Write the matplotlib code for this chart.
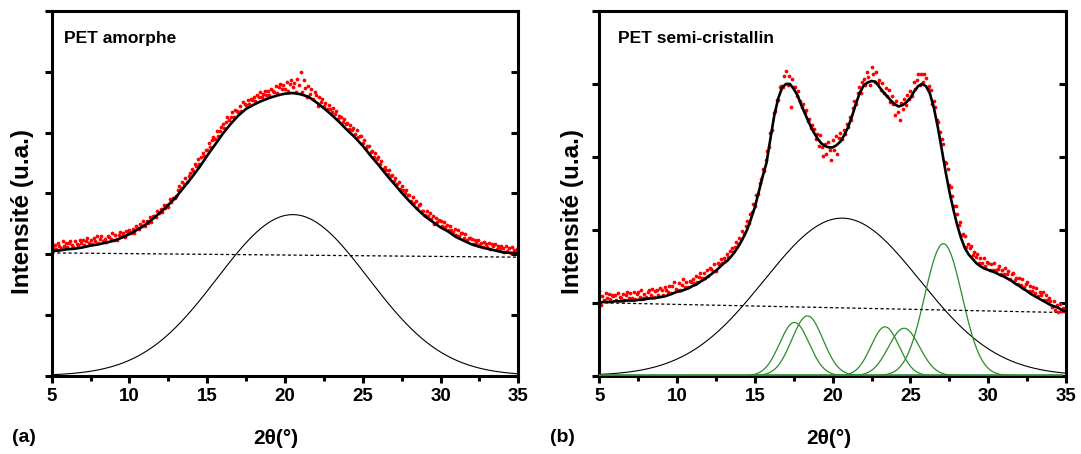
import numpy as np
import matplotlib
matplotlib.use('Agg')
import matplotlib.pyplot as plt
from matplotlib.ticker import MultipleLocator

plt.rcParams['font.family'] = ['Liberation Sans', 'DejaVu Sans']

# ---------------- (a) PET amorphe ----------------
# measured points, 2theta = 5.0 .. 35.0 step 0.1
x_pts = np.round(np.arange(5.0, 35.01, 0.1), 1)
y_pts_a = [
    2.18, 2.10, 2.15, 2.08, 2.18, 2.14, 2.10, 2.21, 2.13, 2.19,
    2.12, 2.19, 2.22, 2.15, 2.12, 2.21, 2.17, 2.15, 2.23, 2.18,
    2.23, 2.15, 2.21, 2.27, 2.18, 2.24, 2.16, 2.26, 2.22, 2.29,
    2.18, 2.25, 2.29, 2.21, 2.25, 2.20, 2.30, 2.28, 2.25, 2.34,
    2.24, 2.32, 2.24, 2.32, 2.37, 2.30, 2.34, 2.28, 2.38, 2.36,
    2.40, 2.34, 2.41, 2.35, 2.47, 2.43, 2.41, 2.49, 2.46, 2.54,
    2.46, 2.55, 2.52, 2.61, 2.53, 2.62, 2.62, 2.61, 2.71, 2.68,
    2.74, 2.69, 2.81, 2.76, 2.81, 2.78, 2.90, 2.85, 2.93, 2.92,
    2.96, 3.06, 3.12, 3.08, 3.18, 3.16, 3.26, 3.19, 3.28, 3.33,
    3.40, 3.36, 3.49, 3.45, 3.57, 3.49, 3.59, 3.66, 3.62, 3.71,
    3.71, 3.83, 3.76, 3.87, 3.92, 3.90, 4.02, 3.95, 4.03, 4.09,
    4.14, 4.08, 4.18, 4.26, 4.20, 4.26, 4.34, 4.26, 4.37, 4.35,
    4.34, 4.43, 4.36, 4.50, 4.47, 4.46, 4.54, 4.47, 4.55, 4.54,
    4.59, 4.52, 4.62, 4.58, 4.67, 4.58, 4.64, 4.69, 4.62, 4.68,
    4.62, 4.72, 4.69, 4.66, 4.76, 4.65, 4.75, 4.80, 4.71, 4.78,
    4.72, 4.83, 4.68, 4.80, 4.87, 4.75, 4.82, 4.66, 4.88, 4.79,
    4.99, 4.67, 4.87, 4.73, 4.58, 4.77, 4.64, 4.71, 4.56, 4.66,
    4.61, 4.44, 4.59, 4.50, 4.56, 4.44, 4.48, 4.38, 4.45, 4.39,
    4.33, 4.40, 4.30, 4.36, 4.22, 4.27, 4.26, 4.17, 4.22, 4.14,
    4.16, 4.06, 4.13, 4.04, 4.07, 3.97, 4.04, 3.92, 3.94, 3.94,
    3.83, 3.87, 3.75, 3.78, 3.78, 3.68, 3.70, 3.60, 3.67, 3.57,
    3.59, 3.49, 3.54, 3.40, 3.44, 3.39, 3.32, 3.39, 3.28, 3.30,
    3.20, 3.26, 3.16, 3.19, 3.07, 3.12, 3.06, 3.01, 3.06, 2.97,
    2.97, 2.87, 2.94, 2.84, 2.88, 2.76, 2.81, 2.82, 2.71, 2.71,
    2.64, 2.71, 2.63, 2.68, 2.58, 2.62, 2.50, 2.60, 2.53, 2.56,
    2.55, 2.47, 2.53, 2.45, 2.48, 2.39, 2.46, 2.40, 2.36, 2.42,
    2.32, 2.39, 2.29, 2.34, 2.34, 2.27, 2.33, 2.23, 2.26, 2.27,
    2.25, 2.17, 2.24, 2.18, 2.24, 2.15, 2.19, 2.12, 2.20, 2.16,
    2.12, 2.18, 2.09, 2.16, 2.13, 2.17, 2.08, 2.13, 2.09, 2.14,
    2.10, 2.04, 2.13, 2.05, 2.10, 2.02, 2.11, 2.07, 2.03, 2.08,
    2.03,
]
# fitted envelope, step 0.5
x_fit_a = np.round(np.arange(5.0, 35.01, 0.5), 1)
y_fit_a = [
    2.05, 2.06, 2.08, 2.09, 2.11, 2.14, 2.16, 2.19, 2.22, 2.27,
    2.33, 2.40, 2.48, 2.58, 2.69, 2.81, 2.94, 3.10, 3.26, 3.43,
    3.62, 3.80, 3.98, 4.14, 4.28, 4.39, 4.46, 4.52, 4.57, 4.61,
    4.64, 4.65, 4.63, 4.59, 4.50, 4.40, 4.29, 4.17, 4.04, 3.92,
    3.78, 3.62, 3.47, 3.31, 3.16, 3.01, 2.87, 2.74, 2.62, 2.53,
    2.44, 2.37, 2.28, 2.22, 2.16, 2.12, 2.09, 2.06, 2.03, 2.02,
    2.01,
]
base_a = [2.02, 1.95]          # linear background at 5 and 35
amorph_a = [20.5, 2.65, 4.85]  # centre, height, sigma

# ---------------- (b) PET semi-cristallin ----------------
y_pts_b = [
    1.16, 0.97, 1.09, 1.04, 1.13, 1.07, 1.12, 1.05, 1.10, 1.09,
    1.11, 1.04, 1.13, 1.08, 1.06, 1.12, 1.04, 1.11, 1.15, 1.06,
    1.13, 1.06, 1.15, 1.05, 1.12, 1.15, 1.08, 1.18, 1.07, 1.12,
    1.08, 1.15, 1.18, 1.11, 1.19, 1.08, 1.16, 1.18, 1.11, 1.20,
    1.17, 1.11, 1.22, 1.17, 1.15, 1.23, 1.14, 1.23, 1.28, 1.19,
    1.18, 1.27, 1.17, 1.25, 1.32, 1.22, 1.29, 1.22, 1.30, 1.28,
    1.33, 1.27, 1.36, 1.28, 1.35, 1.41, 1.34, 1.41, 1.34, 1.45,
    1.37, 1.48, 1.46, 1.43, 1.53, 1.44, 1.54, 1.53, 1.60, 1.55,
    1.62, 1.57, 1.67, 1.63, 1.71, 1.75, 1.69, 1.77, 1.83, 1.80,
    1.89, 1.87, 1.98, 1.94, 2.05, 2.12, 2.10, 2.22, 2.24, 2.35,
    2.33, 2.48, 2.49, 2.64, 2.69, 2.83, 2.81, 2.96, 3.08, 3.13,
    3.33, 3.37, 3.60, 3.63, 3.78, 3.78, 3.96, 3.97, 3.96, 4.11,
    4.18, 3.98, 4.11, 3.68, 4.07, 3.96, 3.96, 3.83, 3.90, 3.77,
    3.69, 3.73, 3.61, 3.64, 3.49, 3.52, 3.39, 3.44, 3.38, 3.25,
    3.32, 3.15, 3.30, 3.13, 3.01, 3.18, 3.04, 3.20, 3.09, 2.96,
    3.23, 3.10, 3.29, 3.04, 3.26, 3.33, 3.24, 3.37, 3.31, 3.45,
    3.41, 3.55, 3.50, 3.67, 3.76, 3.72, 3.87, 3.96, 3.88, 4.03,
    4.07, 3.98, 4.17, 4.09, 3.99, 4.23, 4.14, 4.03, 4.17, 4.01,
    4.05, 3.91, 4.01, 3.88, 3.94, 3.84, 3.91, 3.75, 3.83, 3.73,
    3.57, 3.77, 3.62, 3.51, 3.74, 3.66, 3.80, 3.71, 3.85, 3.79,
    3.90, 3.84, 4.03, 3.93, 4.05, 4.14, 3.99, 4.13, 4.03, 4.14,
    4.08, 3.95, 3.97, 3.92, 3.73, 3.77, 3.69, 3.50, 3.48, 3.34,
    3.25, 3.18, 2.93, 2.91, 2.84, 2.61, 2.59, 2.46, 2.32, 2.33,
    2.22, 2.07, 2.11, 1.93, 1.94, 1.91, 1.77, 1.81, 1.75, 1.78,
    1.65, 1.70, 1.63, 1.67, 1.55, 1.61, 1.55, 1.61, 1.51, 1.56,
    1.54, 1.45, 1.53, 1.45, 1.54, 1.45, 1.46, 1.50, 1.40, 1.45,
    1.39, 1.47, 1.39, 1.44, 1.32, 1.40, 1.41, 1.31, 1.34, 1.26,
    1.34, 1.25, 1.32, 1.21, 1.26, 1.29, 1.16, 1.23, 1.16, 1.21,
    1.13, 1.20, 1.09, 1.15, 1.11, 1.15, 1.04, 1.11, 1.04, 1.07,
    1.02, 0.94, 1.02, 0.90, 0.97, 0.87, 0.98, 0.88, 0.93, 0.88,
    0.90,
]
# fitted envelope, step 0.25
x_fit_b = np.round(np.arange(5.0, 35.01, 0.25), 2)
y_fit_b = [
    1.00, 1.01, 1.01, 1.01, 1.02, 1.02, 1.02, 1.03, 1.03, 1.03,
    1.04, 1.04, 1.05, 1.06, 1.06, 1.07, 1.08, 1.09, 1.11, 1.13,
    1.15, 1.16, 1.18, 1.20, 1.23, 1.25, 1.29, 1.32, 1.36, 1.40,
    1.44, 1.49, 1.54, 1.58, 1.64, 1.71, 1.79, 1.89, 2.00, 2.15,
    2.31, 2.52, 2.73, 2.92, 3.25, 3.57, 3.80, 3.95, 4.00, 4.00,
    3.93, 3.84, 3.70, 3.58, 3.46, 3.35, 3.26, 3.19, 3.15, 3.13,
    3.13, 3.16, 3.21, 3.30, 3.41, 3.56, 3.73, 3.88, 3.98, 4.02,
    4.04, 4.03, 3.96, 3.89, 3.83, 3.77, 3.72, 3.69, 3.71, 3.75,
    3.81, 3.90, 3.97, 4.00, 3.97, 3.87, 3.68, 3.42, 3.12, 2.81,
    2.53, 2.29, 2.07, 1.89, 1.75, 1.66, 1.60, 1.54, 1.50, 1.47,
    1.45, 1.43, 1.41, 1.38, 1.36, 1.33, 1.30, 1.26, 1.23, 1.19,
    1.16, 1.12, 1.09, 1.06, 1.03, 1.00, 0.97, 0.95, 0.93, 0.90,
    0.88,
]
base_b = [1.00, 0.865]
amorph_b = [20.6, 2.16, 5.0]
# crystalline peaks
cryst_centre = [17.54, 18.38, 23.37, 24.59, 27.12]
cryst_height = [0.73, 0.82, 0.67, 0.65, 1.81]
cryst_sigma = [0.95, 1.0, 0.9, 1.0, 1.2]

green = '#2a8c2a'
xx = np.linspace(5, 35, 601)


def gauss(x, c, h, s):
    return h * np.exp(-(x - c) ** 2 / (2 * s ** 2))


def style(ax, ymax):
    ax.set_xlim(5, 35)
    ax.set_ylim(0, ymax)
    for sp in ax.spines.values():
        sp.set_linewidth(2.2)
    ax.xaxis.set_major_locator(MultipleLocator(5))
    ax.xaxis.set_minor_locator(MultipleLocator(2.5))
    ax.yaxis.set_major_locator(MultipleLocator(1))
    ax.tick_params(axis='x', which='major', direction='out', length=5, width=2.2,
                   labelsize=13.5, pad=4)
    ax.tick_params(axis='x', which='minor', direction='out', length=3.5, width=2.2)
    ax.tick_params(axis='y', which='major', direction='out', length=5, width=2.2,
                   left=True, labelleft=False)
    for lab in ax.get_xticklabels():
        lab.set_fontweight('bold')
    # inward ticks on the right side
    ax2 = ax.secondary_yaxis('right')
    ax2.yaxis.set_major_locator(MultipleLocator(1))
    ax2.tick_params(direction='in', length=5, width=2.2, labelright=False)
    ax2.spines['right'].set_visible(False)


fig = plt.figure(figsize=(10.81, 4.54), dpi=100)
axa = fig.add_axes([0.0478, 0.1725, 0.4317, 0.8033])
axb = fig.add_axes([0.5544, 0.1725, 0.4317, 0.8033])

# panel a
bl_a = np.interp(xx, [5, 35], base_a)
axa.plot(xx, gauss(xx, *amorph_a), color='black', lw=0.8)
axa.plot(xx, bl_a, color='black', lw=0.9, ls=(0, (2.5, 2)))
axa.plot(x_pts, y_pts_a, 'o', color='red', ms=2.7, mew=0)
axa.plot(x_fit_a, y_fit_a, color='black', lw=1.9)
style(axa, 6)
axa.text(0.026, 0.945, 'PET amorphe', transform=axa.transAxes,
         fontsize=12.5, fontweight='bold', va='top', ha='left')

# panel b
bl_b = np.interp(xx, [5, 35], base_b)
axb.plot(xx, gauss(xx, *amorph_b), color='black', lw=0.8)
for c, h, s in zip(cryst_centre, cryst_height, cryst_sigma):
    axb.plot(xx, gauss(xx, c, h, s), color=green, lw=0.9)
axb.axhline(0, xmax=0.99, color=green, lw=2.6, zorder=4)
axb.plot(xx, bl_b, color='black', lw=0.9, ls=(0, (2.5, 2)))
axb.plot(x_pts, y_pts_b, 'o', color='red', ms=2.7, mew=0)
axb.plot(x_fit_b, y_fit_b, color='black', lw=1.9)
style(axb, 5)
axb.text(0.041, 0.945, 'PET semi-cristallin', transform=axb.transAxes,
         fontsize=12.5, fontweight='bold', va='top', ha='left')

# labels
for xl in (22.5 / 1081, 573 / 1081):
    fig.text(xl, 1 - 212 / 454, 'Intensité (u.a.)', rotation=90,
             fontsize=17.5, fontweight='bold', ha='center', va='center')
fig.text(12 / 1081, 1 - 438 / 454, '(a)', fontsize=14, fontweight='bold',
         ha='left', va='center')
fig.text(550 / 1081, 1 - 438 / 454, '(b)', fontsize=14, fontweight='bold',
         ha='left', va='center')
fig.text(276 / 1081, 1 - 438 / 454, '2θ(°)', fontsize=15, fontweight='bold',
         ha='center', va='center')
fig.text(829 / 1081, 1 - 438 / 454, '2θ(°)', fontsize=15, fontweight='bold',
         ha='center', va='center')

plt.savefig('out.png', dpi=100)
